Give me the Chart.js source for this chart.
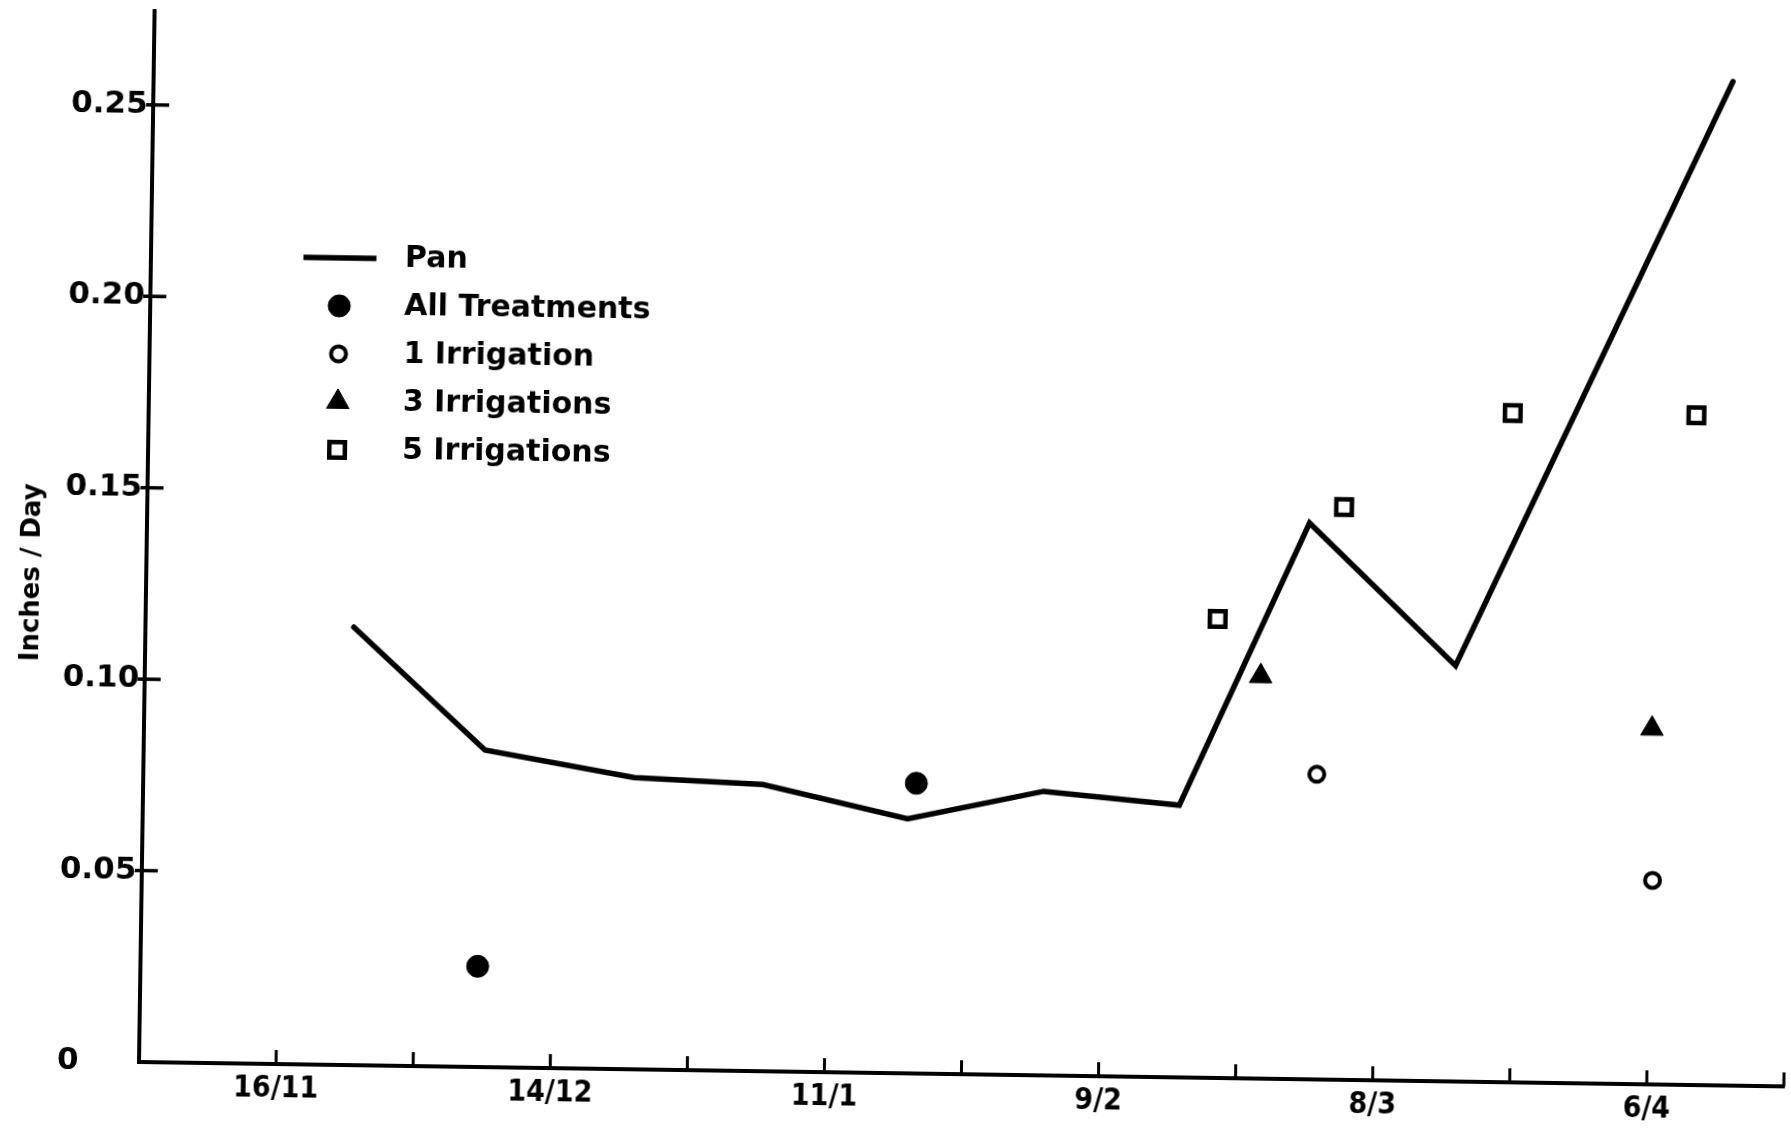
<!DOCTYPE html>
<html>
<head>
<meta charset="utf-8">
<title>Inches / Day</title>
<script src="https://cdn.jsdelivr.net/npm/chart.js@4.4.1/dist/chart.umd.min.js"></script>
<style>
  html, body { margin:0; padding:0; background:#fff; width:1791px; height:1130px; overflow:hidden; }
  #wrap { position:absolute; left:0; top:0; width:1791px; height:1130px; transform: rotate(0.85deg); transform-origin: 139px 1062px; }
  #chart { display:block; }
</style>
</head>
<body>
<div id="wrap"><canvas id="chart" width="1791" height="1130"></canvas></div>
<script>
// x unit: fortnight index (0 = 16/11, 2 = 14/12, ...), axis runs from -1 to 11
const xTickLabels = ['16/11', '14/12', '11/1', '9/2', '8/3', '6/4'];
const yTickValues = [0, 0.05, 0.10, 0.15, 0.20, 0.25];
const yTickLabels = ['0', '0.05', '0.10', '0.15', '0.20', '0.25'];
const yTitle = 'Inches / Day';
const seriesLabels = ['Pan', 'All Treatments', '1 Irrigation', '3 Irrigations', '5 Irrigations'];

const panX = [0.52, 1.49, 2.58, 3.52, 4.58, 5.57, 6.56, 7.48, 8.56, 10.52];
const panY = [0.1144, 0.0828, 0.0762, 0.0749, 0.0665, 0.0742, 0.0711, 0.1453, 0.1086, 0.2622];

const allTreatX = [1.46, 4.64];
const allTreatY = [0.0263, 0.0758];

const irr1X = [7.56, 10.02];
const irr1Y = [0.0797, 0.0533];

const irr3X = [7.14, 10.00];
const irr3Y = [0.1051, 0.0929];

const irr5X = [6.82, 7.73, 8.95, 10.29];
const irr5Y = [0.1199, 0.1496, 0.1748, 0.1749];

const toPts = (xs, ys) => xs.map((v, i) => ({ x: v, y: ys[i] }));

const FONT = '"DejaVu Sans", "Liberation Sans", sans-serif';

const decor = {
  id: 'decor',
  afterDraw(chart, args, o) {
    const { ctx, chartArea: a, scales: { x, y } } = chart;
    ctx.save();
    ctx.strokeStyle = '#000';
    ctx.fillStyle = '#000';
    ctx.lineCap = 'butt';
    // x tick marks, pointing up into the plot
    ctx.lineWidth = 3;
    x.ticks.forEach(t => {
      if (t.value <= x.min) return;
      const px = x.getPixelForValue(t.value);
      ctx.beginPath(); ctx.moveTo(px, a.bottom); ctx.lineTo(px, a.bottom - o.xTickLen); ctx.stroke();
    });
    // y tick marks, crossing the axis
    ctx.lineWidth = 3.5;
    y.ticks.forEach(t => {
      if (t.value <= y.min) return;
      const py = y.getPixelForValue(t.value);
      ctx.beginPath(); ctx.moveTo(a.left - o.yTickOut, py); ctx.lineTo(a.left + o.yTickIn, py); ctx.stroke();
    });
    // y tick labels (left aligned column)
    ctx.font = o.yFont;
    ctx.textAlign = 'left';
    ctx.textBaseline = 'middle';
    y.ticks.forEach((t, i) => ctx.fillText(yTickLabels[i], a.left - o.yLabelGap, y.getPixelForValue(t.value)));
    // y axis title
    ctx.save();
    ctx.translate(a.left - o.titleDX, a.bottom - o.titleDY);
    ctx.rotate(-Math.PI / 2);
    ctx.font = o.titleFont;
    ctx.textAlign = 'center';
    ctx.textBaseline = 'middle';
    ctx.fillText(yTitle, 0, 0);
    ctx.restore();
    // legend inside plot
    chart.data.datasets.forEach((ds, i) => {
      const cy = a.top + o.legTop + i * o.legGap;
      const cx = a.left + o.legSymX;
      ctx.strokeStyle = ds.borderColor;
      ctx.lineWidth = ds.borderWidth;
      if (ds.showLine) {
        ctx.beginPath(); ctx.moveTo(cx - o.legLineHalf, cy); ctx.lineTo(cx + o.legLineHalf, cy); ctx.stroke();
      } else {
        ctx.fillStyle = ds.backgroundColor;
        const opts = { pointStyle: ds.pointStyle, radius: ds.pointRadius, borderWidth: ds.borderWidth, rotation: 0 };
        if (Chart.helpers && Chart.helpers.drawPoint) {
          Chart.helpers.drawPoint(ctx, opts, cx, cy);
        } else {
          ctx.beginPath(); ctx.arc(cx, cy, ds.pointRadius, 0, Math.PI * 2); ctx.fill(); ctx.stroke();
        }
      }
      ctx.fillStyle = '#000';
      ctx.font = o.legFont;
      ctx.textAlign = 'left';
      ctx.textBaseline = 'middle';
      ctx.fillText(ds.label, a.left + o.legTextX, cy);
    });
    ctx.restore();
  }
};

new Chart(document.getElementById('chart'), {
  type: 'scatter',
  data: {
    datasets: [
      { label: seriesLabels[0], data: toPts(panX, panY), showLine: true, borderColor: '#000', backgroundColor: '#000',
        borderWidth: 5.5, pointRadius: 0, tension: 0, borderJoinStyle: 'miter', borderCapStyle: 'round' },
      { label: seriesLabels[1], data: toPts(allTreatX, allTreatY), pointStyle: 'circle', pointRadius: 11,
        backgroundColor: '#000', borderColor: '#000', borderWidth: 1 },
      { label: seriesLabels[2], data: toPts(irr1X, irr1Y), pointStyle: 'circle', pointRadius: 7.5,
        backgroundColor: '#fff', borderColor: '#000', borderWidth: 4 },
      { label: seriesLabels[3], data: toPts(irr3X, irr3Y), pointStyle: 'triangle', pointRadius: 13,
        backgroundColor: '#000', borderColor: '#000', borderWidth: 1 },
      { label: seriesLabels[4], data: toPts(irr5X, irr5Y), pointStyle: 'rect', pointRadius: 11,
        backgroundColor: '#fff', borderColor: '#000', borderWidth: 4.5 }
    ]
  },
  options: {
    responsive: false,
    animation: false,
    devicePixelRatio: 1,
    events: [],
    layout: { autoPadding: false, padding: { left: 0, right: 6, top: 11, bottom: 0 } },
    plugins: {
      legend: { display: false },
      tooltip: { enabled: false },
      decor: {
        xTickLen: 14, yTickOut: 7, yTickIn: 16,
        yFont: 'bold 31px ' + FONT, yLabelGap: 82,
        titleFont: 'bold 26px ' + FONT, titleDX: 114, titleDY: 488,
        legFont: 'bold 30px ' + FONT, legTop: 244, legGap: 48, legSymX: 189, legTextX: 254, legLineHalf: 36.5
      }
    },
    scales: {
      x: {
        type: 'linear', min: -1, max: 11,
        grid: { display: false, drawTicks: false },
        border: { display: true, color: '#000', width: 4 },
        ticks: {
          stepSize: 1, autoSkip: false, maxRotation: 0, minRotation: 0, padding: 7, color: '#000',
          font: { family: '"Liberation Sans Narrow", "DejaVu Sans Condensed", "Liberation Sans", sans-serif', weight: 'bold', size: 30 },
          callback: v => (v >= 0 && v % 2 === 0) ? xTickLabels[v / 2] : ''
        },
        afterFit: s => { s.height = 68; }
      },
      y: {
        type: 'linear', min: 0, max: 0.2745,
        grid: { display: false, drawTicks: false },
        border: { display: true, color: '#000', width: 4 },
        ticks: { display: false },
        afterBuildTicks: s => { s.ticks = yTickValues.map(v => ({ value: v })); },
        afterFit: s => { s.width = 139; }
      }
    }
  },
  plugins: [decor]
});
</script>
</body>
</html>
